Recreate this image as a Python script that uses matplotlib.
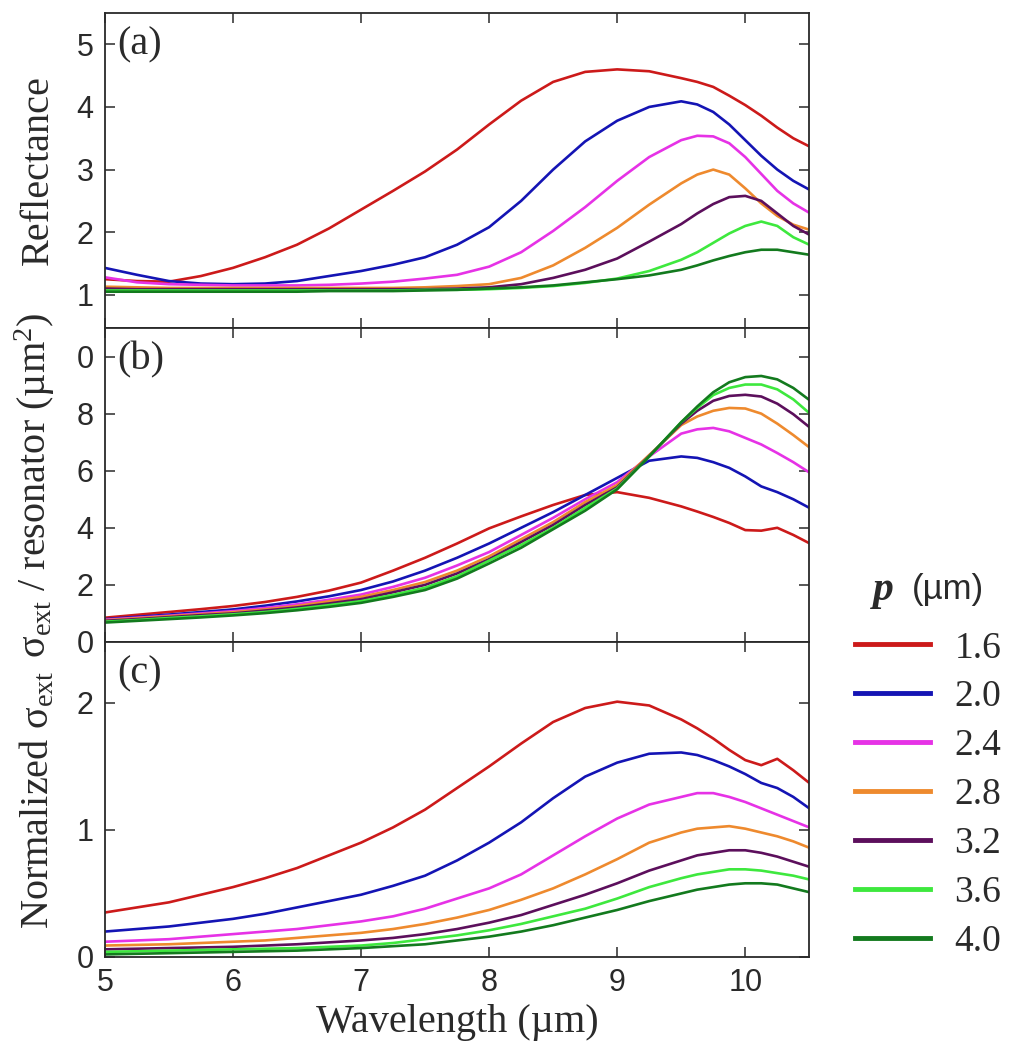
import matplotlib
matplotlib.use("Agg")
import matplotlib.pyplot as plt

plt.rcParams["mathtext.fontset"] = "custom"
plt.rcParams["mathtext.rm"] = "Liberation Serif"
plt.rcParams["mathtext.it"] = "Liberation Serif:italic"
plt.rcParams["mathtext.bf"] = "Liberation Serif:bold"

# ---------------- data ----------------
wavelength = [5.0, 5.25, 5.5, 5.75, 6.0, 6.25, 6.5, 6.75, 7.0, 7.25, 7.5, 7.75, 8.0, 8.25, 8.5,
              8.75, 9.0, 9.25, 9.5, 9.625, 9.75, 9.875, 10.0, 10.125, 10.25, 10.375, 10.5]

periods = ["1.6", "2.0", "2.4", "2.8", "3.2", "3.6", "4.0"]

# (a) reflectance
refl_16 = [1.25, 1.22, 1.21, 1.30, 1.43, 1.60, 1.80, 2.06, 2.36, 2.66, 2.97, 3.32, 3.72, 4.10, 4.40,
           4.56, 4.60, 4.57, 4.46, 4.40, 4.32, 4.18, 4.03, 3.86, 3.67, 3.50, 3.37]
refl_20 = [1.43, 1.32, 1.22, 1.18, 1.17, 1.18, 1.22, 1.30, 1.38, 1.48, 1.60, 1.80, 2.08, 2.50, 3.00,
           3.45, 3.78, 4.00, 4.09, 4.04, 3.92, 3.72, 3.47, 3.22, 3.00, 2.82, 2.68]
refl_24 = [1.28, 1.20, 1.17, 1.16, 1.15, 1.15, 1.15, 1.16, 1.18, 1.21, 1.26, 1.32, 1.45, 1.68, 2.02,
           2.40, 2.82, 3.20, 3.47, 3.54, 3.53, 3.42, 3.20, 2.93, 2.66, 2.46, 2.31]
refl_28 = [1.13, 1.12, 1.11, 1.11, 1.11, 1.11, 1.11, 1.11, 1.11, 1.11, 1.12, 1.14, 1.17, 1.27, 1.47,
           1.75, 2.07, 2.44, 2.78, 2.92, 3.00, 2.92, 2.70, 2.46, 2.26, 2.12, 2.04]
refl_32 = [1.10, 1.09, 1.09, 1.09, 1.09, 1.09, 1.09, 1.09, 1.09, 1.09, 1.09, 1.10, 1.12, 1.17, 1.27,
           1.40, 1.58, 1.85, 2.13, 2.30, 2.45, 2.56, 2.58, 2.50, 2.30, 2.10, 1.96]
refl_36 = [1.07, 1.07, 1.07, 1.07, 1.07, 1.07, 1.07, 1.07, 1.07, 1.07, 1.08, 1.08, 1.09, 1.11, 1.14,
           1.19, 1.26, 1.38, 1.56, 1.68, 1.83, 1.98, 2.10, 2.17, 2.10, 1.92, 1.80]
refl_40 = [1.05, 1.05, 1.05, 1.05, 1.05, 1.05, 1.05, 1.06, 1.06, 1.06, 1.07, 1.08, 1.10, 1.12, 1.15,
           1.20, 1.25, 1.31, 1.40, 1.47, 1.55, 1.62, 1.68, 1.72, 1.72, 1.68, 1.64]

# (b) extinction cross section per resonator (um^2)
ext_16 = [0.85, 0.95, 1.05, 1.15, 1.26, 1.40, 1.58, 1.80, 2.08, 2.50, 2.95, 3.45, 3.98, 4.40, 4.80,
          5.15, 5.25, 5.05, 4.75, 4.57, 4.38, 4.17, 3.92, 3.90, 4.00, 3.75, 3.46]
ext_20 = [0.80, 0.88, 0.96, 1.05, 1.14, 1.27, 1.42, 1.60, 1.82, 2.12, 2.50, 2.95, 3.45, 4.00, 4.55,
          5.15, 5.75, 6.35, 6.50, 6.45, 6.30, 6.10, 5.80, 5.45, 5.25, 5.00, 4.70]
ext_24 = [0.78, 0.85, 0.92, 1.00, 1.08, 1.19, 1.32, 1.48, 1.66, 1.93, 2.25, 2.68, 3.15, 3.75, 4.35,
          5.00, 5.60, 6.50, 7.30, 7.45, 7.50, 7.38, 7.15, 6.92, 6.62, 6.30, 5.94]
ext_28 = [0.76, 0.83, 0.90, 0.97, 1.04, 1.14, 1.26, 1.42, 1.58, 1.82, 2.10, 2.50, 3.00, 3.60, 4.20,
          4.90, 5.50, 6.55, 7.60, 7.90, 8.10, 8.20, 8.18, 8.00, 7.65, 7.25, 6.82]
ext_32 = [0.74, 0.80, 0.87, 0.94, 1.00, 1.10, 1.21, 1.35, 1.50, 1.74, 2.00, 2.40, 2.90, 3.50, 4.10,
          4.80, 5.42, 6.52, 7.65, 8.10, 8.45, 8.62, 8.66, 8.60, 8.35, 7.98, 7.53]
ext_36 = [0.71, 0.77, 0.84, 0.90, 0.97, 1.05, 1.16, 1.29, 1.43, 1.65, 1.90, 2.30, 2.85, 3.40, 4.00,
          4.70, 5.38, 6.50, 7.70, 8.20, 8.65, 8.90, 9.02, 9.02, 8.85, 8.50, 8.02]
ext_40 = [0.68, 0.74, 0.80, 0.86, 0.93, 1.01, 1.11, 1.23, 1.37, 1.58, 1.82, 2.22, 2.75, 3.30, 3.95,
          4.60, 5.35, 6.50, 7.70, 8.25, 8.75, 9.10, 9.28, 9.32, 9.20, 8.90, 8.48]

# (c) normalized extinction cross section
norm_16 = [0.35, 0.39, 0.43, 0.49, 0.55, 0.62, 0.70, 0.80, 0.90, 1.02, 1.16, 1.33, 1.50, 1.68, 1.85,
           1.96, 2.01, 1.98, 1.87, 1.80, 1.72, 1.63, 1.55, 1.51, 1.56, 1.47, 1.37]
norm_20 = [0.20, 0.22, 0.24, 0.27, 0.30, 0.34, 0.39, 0.44, 0.49, 0.56, 0.64, 0.76, 0.90, 1.06, 1.25,
           1.42, 1.53, 1.60, 1.61, 1.59, 1.55, 1.50, 1.44, 1.37, 1.33, 1.26, 1.17]
norm_24 = [0.12, 0.13, 0.14, 0.16, 0.18, 0.20, 0.22, 0.25, 0.28, 0.32, 0.38, 0.46, 0.54, 0.65, 0.80,
           0.95, 1.09, 1.20, 1.26, 1.29, 1.29, 1.26, 1.22, 1.17, 1.12, 1.07, 1.02]
norm_28 = [0.09, 0.095, 0.10, 0.11, 0.12, 0.13, 0.15, 0.17, 0.19, 0.22, 0.26, 0.31, 0.37, 0.45, 0.54,
           0.65, 0.77, 0.90, 0.98, 1.01, 1.02, 1.03, 1.01, 0.98, 0.95, 0.91, 0.86]
norm_32 = [0.06, 0.065, 0.07, 0.075, 0.08, 0.09, 0.10, 0.115, 0.13, 0.15, 0.18, 0.22, 0.27, 0.33, 0.41,
           0.49, 0.58, 0.68, 0.76, 0.80, 0.82, 0.84, 0.84, 0.82, 0.79, 0.75, 0.71]
norm_36 = [0.04, 0.045, 0.05, 0.055, 0.06, 0.065, 0.07, 0.08, 0.09, 0.11, 0.14, 0.17, 0.21, 0.26, 0.32,
           0.38, 0.46, 0.55, 0.62, 0.65, 0.67, 0.69, 0.69, 0.68, 0.66, 0.64, 0.61]
norm_40 = [0.02, 0.025, 0.03, 0.035, 0.04, 0.045, 0.05, 0.06, 0.07, 0.085, 0.10, 0.13, 0.16, 0.20, 0.25,
           0.31, 0.37, 0.44, 0.50, 0.53, 0.55, 0.57, 0.58, 0.58, 0.57, 0.54, 0.51]

colors = ["#cc1a1a", "#1414b4", "#e632e6", "#ee8a2e", "#5c0f5c", "#3ee83e", "#137a1e"]

SERIF = "Liberation Serif"
SANS = "Liberation Sans"
INK = "#2a2a2a"

fig = plt.figure(figsize=(10.18, 10.5), dpi=100)
ax_a = fig.add_axes([0.103, 0.6876, 0.692, 0.300])
ax_b = fig.add_axes([0.103, 0.3886, 0.692, 0.299])
ax_c = fig.add_axes([0.103, 0.0886, 0.692, 0.300])

panels = [
    (ax_a, [refl_16, refl_20, refl_24, refl_28, refl_32, refl_36, refl_40]),
    (ax_b, [ext_16, ext_20, ext_24, ext_28, ext_32, ext_36, ext_40]),
    (ax_c, [norm_16, norm_20, norm_24, norm_28, norm_32, norm_36, norm_40]),
]

for ax, series in panels:
    for vals, col, p in zip(series, colors, periods):
        ax.plot(wavelength, vals, color=col, lw=1.9, label=p)
    ax.set_xlim(5, 10.5)
    ax.set_xticks([5, 6, 7, 8, 9, 10])
    ax.tick_params(direction="in", top=True, right=True, length=7, width=1.1,
                   labelsize=22, colors=INK, pad=8)
    for lab in ax.get_xticklabels() + ax.get_yticklabels():
        lab.set_fontfamily(SANS)
    for sp in ax.spines.values():
        sp.set_linewidth(1.3)
        sp.set_color(INK)

# panel (a)
ax_a.set_ylim(0.47, 5.5)
ax_a.set_yticks([1, 2, 3, 4, 5])
ax_a.tick_params(labelbottom=False)
ax_a.set_ylabel("Reflectance", family=SERIF, fontsize=29, color=INK)

# panel (b)
ax_b.set_ylim(0, 11)
ax_b.set_yticks([0, 2, 4, 6, 8, 10])
ax_b.set_yticklabels(["0", "2", "4", "6", "8", "0"], family=SANS)
ax_b.tick_params(labelbottom=False)
ax_b.set_ylabel("σ$_{\\mathrm{ext}}$ / resonator (µm$^{2}$)", family=SERIF, fontsize=29, color=INK)

# panel (c)
ax_c.set_ylim(0, 2.48)
ax_c.set_yticks([0, 1, 2])
ax_c.set_ylabel("Normalized σ$_{\\mathrm{ext}}$", family=SERIF, fontsize=29, color=INK)
ax_c.set_xlabel("Wavelength (µm)", family=SERIF, fontsize=29, color=INK, labelpad=4)

for ax, tag in zip([ax_a, ax_b, ax_c], ["(a)", "(b)", "(c)"]):
    ax.text(0.018, 0.958, tag, transform=ax.transAxes, ha="left", va="top",
            family=SERIF, fontsize=29, color=INK)
    ax.yaxis.set_label_coords(-0.068, 0.5)

# legend
handles, labels = ax_c.get_legend_handles_labels()
leg = fig.legend(handles, labels, loc="upper left", bbox_to_anchor=(0.840, 0.399),
                 frameon=False, prop={"family": SERIF, "size": 27},
                 handlelength=2.0, handletextpad=0.65, labelspacing=0.385,
                 borderpad=0, borderaxespad=0)
for ln in leg.get_lines():
    ln.set_linewidth(3.5)
for t in leg.get_texts():
    t.set_color(INK)

fig.text(873 / 1018, 1 - 590 / 1050, "p", family=SERIF, weight="bold", style="italic",
         fontsize=30, ha="left", va="center", color=INK)
fig.text(912 / 1018, 1 - 590 / 1050, "(µm)", family=SANS, fontsize=25,
         ha="left", va="center", color=INK)

fig.savefig("out.png", dpi=100)
